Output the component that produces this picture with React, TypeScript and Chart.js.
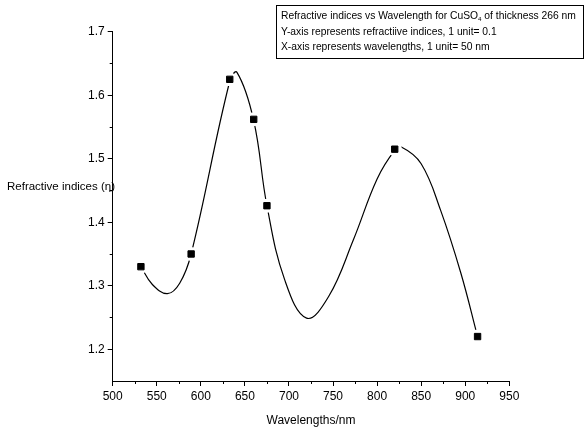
import React, { useEffect, useRef } from 'react';
import { Chart, registerables } from 'chart.js';

Chart.register(...registerables);

// Measured points (wavelength in nm, refractive index)
const wavelengths = [532, 589, 632.8, 660, 675, 820, 914];
const refractiveIndices = [1.33, 1.35, 1.625, 1.562, 1.426, 1.515, 1.22];

// Fitted smooth curve
const curveWavelengths = [532, 545, 562, 576, 589, 632.8, 641, 660, 675, 695, 720, 745, 773, 800, 820, 828, 850, 872, 895, 914];
const curveIndices = [1.33, 1.302, 1.2875, 1.304, 1.35, 1.622, 1.636, 1.56, 1.426, 1.31, 1.249, 1.283, 1.372, 1.468, 1.513, 1.518, 1.492, 1.419, 1.32, 1.22];

const xTicks = [500, 550, 600, 650, 700, 750, 800, 850, 900, 950];
const xMinorTicks = [525, 575, 625, 675, 725, 775, 825, 875, 925];
const yTicks = [1.2, 1.3, 1.4, 1.5, 1.6, 1.7];
const yMinorTicks = [1.25, 1.35, 1.45, 1.55, 1.65];

const xTitle = 'Wavelengths/nm';
const yTitle = 'Refractive indices (\u03B7)';
const legendTitleParts = ['Refractive indices vs Wavelength for CuSO', '4', ' of thickness 266 nm'];
const legendLines = [
  'Y-axis represents refractiive indices, 1 unit= 0.1',
  'X-axis represents wavelengths, 1 unit= 50 nm',
];

const FONT = '"Liberation Sans", Arial, sans-serif';

const annotations = {
  id: 'annotations',
  beforeDraw(chart: any) {
    const ctx = chart.ctx;
    ctx.save();
    ctx.font = `11.5px ${FONT}`;
    ctx.fillStyle = '#000';
    ctx.textBaseline = 'middle';
    ctx.textAlign = 'left';
    ctx.fillText(yTitle, 7, 187);
    ctx.restore();
  },
  afterDraw(chart: any) {
    const { ctx } = chart;
    const x = chart.scales.x;
    const y = chart.scales.y;
    ctx.save();
    ctx.strokeStyle = '#000';
    ctx.lineWidth = 1;
    xMinorTicks.forEach((v) => {
      const px = Math.round(x.getPixelForValue(v)) + 0.5;
      ctx.beginPath();
      ctx.moveTo(px, y.bottom);
      ctx.lineTo(px, y.bottom + 3);
      ctx.stroke();
    });
    yMinorTicks.forEach((v) => {
      const py = Math.round(y.getPixelForValue(v)) + 0.5;
      ctx.beginPath();
      ctx.moveTo(x.left, py);
      ctx.lineTo(x.left - 3, py);
      ctx.stroke();
    });

    // legend box
    const bx = 276.5, by = 5.5, bw = 307, bh = 53;
    ctx.fillStyle = '#fff';
    ctx.fillRect(bx, by, bw, bh);
    ctx.strokeStyle = '#000';
    ctx.lineWidth = 1;
    ctx.strokeRect(bx, by, bw, bh);
    ctx.fillStyle = '#000';
    ctx.textBaseline = 'alphabetic';
    ctx.textAlign = 'left';
    const fs = 10.3;
    ctx.font = `${fs}px ${FONT}`;
    let tx = 281;
    const base1 = 19;
    ctx.fillText(legendTitleParts[0], tx, base1);
    tx += ctx.measureText(legendTitleParts[0]).width;
    ctx.font = `${fs * 0.6}px ${FONT}`;
    ctx.fillText(legendTitleParts[1], tx, base1 + 2);
    tx += ctx.measureText(legendTitleParts[1]).width;
    ctx.font = `${fs}px ${FONT}`;
    ctx.fillText(legendTitleParts[2], tx, base1);
    legendLines.forEach((line, i) => {
      ctx.fillText(line, 281, base1 + 15.5 * (i + 1));
    });
    ctx.restore();
  },
};

export default function App() {
  const ref = useRef<HTMLCanvasElement>(null);
  useEffect(() => {
    if (!ref.current) return;
    const chart = new Chart(ref.current, {
      type: 'line',
      data: {
        datasets: [
          {
            label: 'points',
            data: wavelengths.map((w, i) => ({ x: w, y: refractiveIndices[i] })),
            showLine: false,
            pointStyle: 'rect',
            pointRadius: 4.5,
            backgroundColor: '#000',
            borderColor: '#000',
            borderWidth: 1,
          },
          {
            label: 'halo',
            data: wavelengths.map((w, i) => ({ x: w, y: refractiveIndices[i] })),
            showLine: false,
            pointStyle: 'circle',
            pointRadius: 7,
            backgroundColor: '#fff',
            borderColor: '#fff',
            borderWidth: 0,
          },
          {
            label: 'curve',
            data: curveWavelengths.map((w, i) => ({ x: w, y: curveIndices[i] })),
            borderColor: '#000',
            borderWidth: 1.2,
            pointRadius: 0,
            tension: 0.4,
            fill: false,
          },
        ],
      },
      options: {
        animation: false,
        responsive: false,
        devicePixelRatio: 1,
        layout: { padding: { left: 0, right: 78.7, top: 31.7, bottom: 0 } },
        plugins: { legend: { display: false }, tooltip: { enabled: false } },
        scales: {
          x: {
            type: 'linear',
            min: 500,
            max: 950,
            afterBuildTicks: (s: any) => { s.ticks = xTicks.map((v) => ({ value: v })); },
            afterFit: (s: any) => { s.height = 51; },
            grid: { drawOnChartArea: false, drawTicks: true, tickLength: 5, color: '#000' },
            border: { display: true, color: '#000', width: 1 },
            ticks: { color: '#000', font: { family: FONT, size: 12 }, padding: 3, maxRotation: 0 },
            title: { display: true, text: xTitle, color: '#000', font: { family: FONT, size: 12 }, padding: { top: 4 } },
          },
          y: {
            type: 'linear',
            min: 1.15,
            max: 1.7,
            afterBuildTicks: (s: any) => { s.ticks = yTicks.map((v) => ({ value: v })); },
            afterFit: (s: any) => { s.width = 112.7; },
            grid: { drawOnChartArea: false, drawTicks: true, tickLength: 5, color: '#000' },
            border: { display: true, color: '#000', width: 1 },
            ticks: { color: '#000', font: { family: FONT, size: 12 }, padding: 3, callback: (v: any) => Number(v).toFixed(1) },
          },
        },
      },
      plugins: [annotations],
    });
    return () => chart.destroy();
  }, []);
  return (
    <div style={{ position: 'absolute', left: 0, top: 0, width: 588, height: 432 }}>
      <canvas ref={ref} width={588} height={432} style={{ width: 588, height: 432 }} />
    </div>
  );
}
